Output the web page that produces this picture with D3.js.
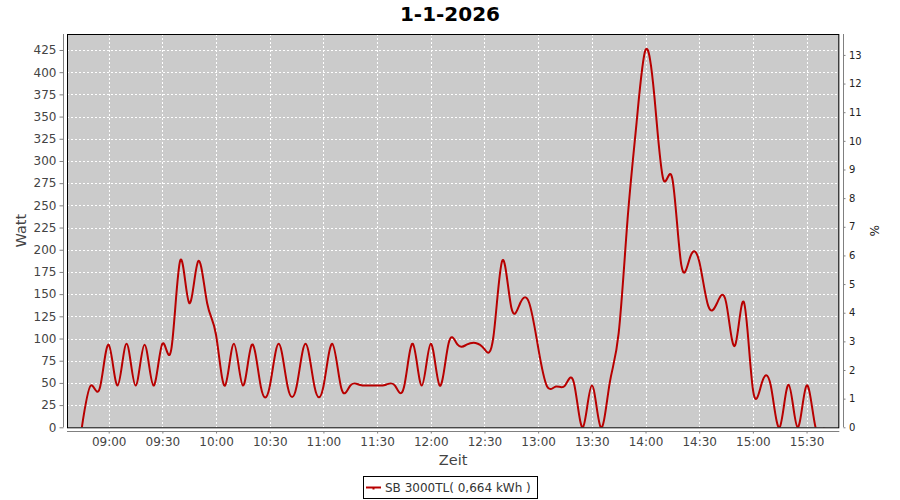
<!DOCTYPE html>
<html>
<head>
<meta charset="utf-8">
<script src="https://cdn.jsdelivr.net/npm/d3@7/dist/d3.min.js"></script>
<style>
  html, body { margin: 0; padding: 0; background: #ffffff; }
  svg { display: block; font-family: "DejaVu Sans", sans-serif; }
</style>
</head>
<body>
<svg id="chart" width="900" height="500"></svg>
<script>
// ---- data ----
const times = ["08:45","08:50","08:55","09:00","09:05","09:10","09:15","09:20","09:25","09:30",
  "09:35","09:40","09:45","09:50","09:55","10:00","10:05","10:10","10:15","10:20",
  "10:25","10:30","10:35","10:40","10:45","10:50","10:55","11:00","11:05","11:10",
  "11:15","11:20","11:25","11:30","11:35","11:40","11:45","11:50","11:55","12:00",
  "12:05","12:10","12:15","12:20","12:25","12:30","12:35","12:40","12:45","12:50",
  "12:55","13:00","13:05","13:10","13:15","13:20","13:25","13:30","13:35","13:40",
  "13:45","13:50","13:55","14:00","14:05","14:10","14:15","14:20","14:25","14:30",
  "14:35","14:40","14:45","14:50","14:55","15:00","15:05","15:10","15:15","15:20",
  "15:25","15:30","15:35","15:40"];
const watts = [0,47,44,93,47,94,47,93,47,94,
  88,188,140,187,140,104,47,94,47,93,
  46,46,94,46,46,94,46,46,94,44,
  47,48,47,47,48,47,45,94,47,94,
  47,95,93,93,95,88,102,188,135,140,
  140,90,46,46,47,50,0,47,0,50,
  106,235,343,425,372,279,280,183,192,187,
  137,140,141,92,141,43,50,47,0,48,
  0,47,0,0];
const leftTicks = [0,25,50,75,100,125,150,175,200,225,250,275,300,325,350,375,400,425];
const rightTicks = [0,1,2,3,4,5,6,7,8,9,10,11,12,13];
const xTickLabels = ["09:00","09:30","10:00","10:30","11:00","11:30","12:00","12:30","13:00","13:30","14:00","14:30","15:00","15:30"];
const titleText = "1-1-2026";
const seriesName = "SB 3000TL( 0,664 kWh )";
const yTitle = "Watt", xTitle = "Zeit", y2Title = "%";

// ---- layout ----
const svg = d3.select("#chart");
const P = { left: 67, right: 839.3, top: 34, bottom: 427.3 };
const parse = d3.timeParse("%H:%M");
const fmt = d3.timeFormat("%H:%M");
const data = times.map((t, i) => ({ t: parse(t), v: watts[i] }));

const ext = d3.extent(data, d => d.t);
const span = ext[1] - ext[0];
const x = d3.scaleTime()
  .domain([new Date(+ext[0] - span * 0.02), new Date(+ext[1] + span * 0.02)])
  .range([P.left, P.right]);
const y = d3.scaleLinear().domain([0, 443]).range([P.bottom, P.top]);
const y2 = d3.scaleLinear().domain([0, 13.73]).range([P.bottom, P.top]);
const xTicks = xTickLabels.map(parse);

// background
svg.append("rect").attr("x", P.left).attr("y", P.top)
  .attr("width", P.right - P.left).attr("height", P.bottom - P.top)
  .attr("fill", "#cbcbcb");

// grid
const grid = svg.append("g").attr("stroke", "#ffffff").attr("stroke-width", 1)
  .attr("stroke-dasharray", "2,2");
grid.selectAll("line.h").data(leftTicks.filter(d => d > 0)).join("line")
  .attr("x1", P.left).attr("x2", P.right)
  .attr("y1", d => Math.round(y(d)) + 0.5).attr("y2", d => Math.round(y(d)) + 0.5);
grid.selectAll("line.v").data(xTicks).join("line")
  .attr("y1", P.top).attr("y2", P.bottom)
  .attr("x1", d => Math.round(x(d)) + 0.5).attr("x2", d => Math.round(x(d)) + 0.5);

// clip + line
svg.append("clipPath").attr("id", "clip").append("rect")
  .attr("x", P.left).attr("y", P.top).attr("width", P.right - P.left).attr("height", P.bottom - P.top);
const line = d3.line().x(d => x(d.t)).y(d => y(d.v)).curve(d3.curveNatural);
svg.append("path").datum(data).attr("clip-path", "url(#clip)")
  .attr("d", line).attr("fill", "none").attr("stroke", "#b80000").attr("stroke-width", 2)
  .attr("stroke-linejoin", "round");

// plot border
svg.append("rect").attr("x", P.left + 0.5).attr("y", P.top + 0.5)
  .attr("width", P.right - P.left - 1).attr("height", P.bottom - P.top)
  .attr("fill", "none").attr("stroke", "#000000").attr("stroke-width", 1);

// axes
function styleAxis(g, color, textColor, size) {
  g.selectAll("path.domain").attr("stroke", color);
  g.selectAll(".tick line").attr("stroke", color);
  g.selectAll(".tick text").attr("fill", textColor).style("font-size", size + "px")
    .style("font-family", "DejaVu Sans, sans-serif");
}
const gl = svg.append("g").attr("transform", "translate(63.5,0)")
  .call(d3.axisLeft(y).tickValues(leftTicks).tickSize(4).tickPadding(3).tickSizeOuter(0));
styleAxis(gl, "#808080", "#444444", 12);
gl.select("path.domain").attr("d", `M0,${P.top}V${P.bottom}`);

const gr = svg.append("g").attr("transform", "translate(843.5,0)")
  .call(d3.axisRight(y2).tickValues(rightTicks).tickSize(2).tickPadding(3.5).tickSizeOuter(0));
styleAxis(gr, "#808080", "#222222", 10);
gr.select("path.domain").attr("d", `M0,${P.top}V${P.bottom}`);

const gb = svg.append("g").attr("transform", "translate(0,431.5)")
  .call(d3.axisBottom(x).tickValues(xTicks).tickFormat(fmt).tickSize(2).tickPadding(4).tickSizeOuter(0));
styleAxis(gb, "#808080", "#444444", 12);
gb.select("path.domain").attr("d", `M${P.left},0H${P.right}`);

// titles
svg.append("text").attr("x", 450).attr("y", 21).attr("text-anchor", "middle")
  .style("font-size", "20px").style("font-weight", "bold").attr("fill", "#000").text(titleText);
svg.append("text").attr("transform", `translate(26,${(P.top + P.bottom) / 2}) rotate(-90)`)
  .attr("text-anchor", "middle").style("font-size", "14.5px").attr("fill", "#444").text(yTitle);
svg.append("text").attr("x", (P.left + P.right) / 2).attr("y", 465).attr("text-anchor", "middle")
  .style("font-size", "14.5px").attr("fill", "#444").text(xTitle);
svg.append("text").attr("transform", `translate(870,${(P.top + P.bottom) / 2}) rotate(90)`)
  .attr("text-anchor", "middle").style("font-size", "12px").attr("fill", "#222").text(y2Title);

// legend
const lg = svg.append("g");
lg.append("rect").attr("x", 363.5).attr("y", 476.5).attr("width", 174).attr("height", 22)
  .attr("fill", "#fff").attr("stroke", "#000").attr("stroke-width", 1);
lg.append("line").attr("x1", 366).attr("x2", 381).attr("y1", 487.5).attr("y2", 487.5)
  .attr("stroke", "#b80000").attr("stroke-width", 2);
lg.append("rect").attr("x", 372.5).attr("y", 487.5).attr("width", 2).attr("height", 2).attr("fill", "#b80000");
lg.append("text").attr("x", 385).attr("y", 491.5).style("font-size", "12px").attr("fill", "#333")
  .text(seriesName);
</script>
</body>
</html>
